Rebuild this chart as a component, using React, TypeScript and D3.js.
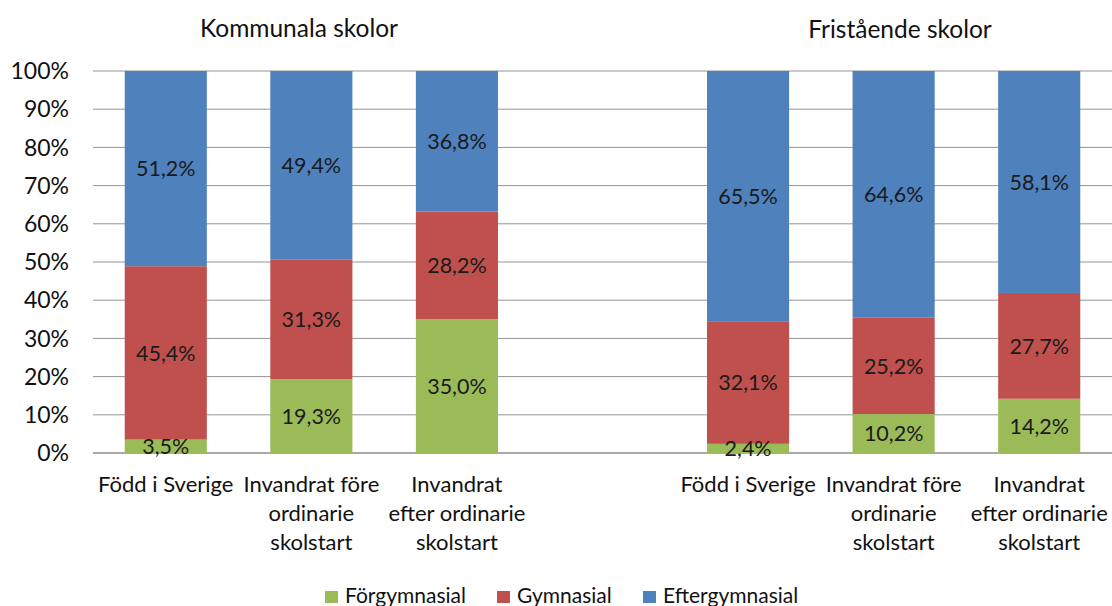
import React from 'react';
import * as d3 from 'd3';

// category slots, 'gap' is the empty spacer between the two school groups
const categories = ['k1', 'k2', 'k3', 'gap', 'f1', 'f2', 'f3'];
const categoryLabels = [
  ['Född i Sverige'],
  ['Invandrat före', 'ordinarie', 'skolstart'],
  ['Invandrat', 'efter ordinarie', 'skolstart'],
  [],
  ['Född i Sverige'],
  ['Invandrat före', 'ordinarie', 'skolstart'],
  ['Invandrat', 'efter ordinarie', 'skolstart'],
];
const groupTitles = ['Kommunala skolor', 'Fristående skolor'];
const seriesNames = ['Förgymnasial', 'Gymnasial', 'Eftergymnasial'];
const forgymnasial = [3.5, 19.3, 35.0, null, 2.4, 10.2, 14.2];
const gymnasial = [45.4, 31.3, 28.2, null, 32.1, 25.2, 27.7];
const eftergymnasial = [51.2, 49.4, 36.8, null, 65.5, 64.6, 58.1];
const yTicks = [0, 10, 20, 30, 40, 50, 60, 70, 80, 90, 100];

const colors = ['#9BBB59', '#C0504D', '#4F81BD'];
const FONT = 'Lato, "Liberation Sans", sans-serif';

const W = 1112;
const H = 606;
const margin = { left: 93, right: 0, top: 71, bottom: 153 };

export default function App() {
  const x = d3.scaleBand<string>()
    .domain(categories)
    .range([margin.left, W - margin.right])
    .paddingInner(0.436)
    .paddingOuter(0.218);
  const y = d3.scaleLinear().domain([0, 100]).range([H - margin.bottom, margin.top]);

  const rows = categories.map((c, i) => ({
    cat: c,
    f: forgymnasial[i],
    g: gymnasial[i],
    e: eftergymnasial[i],
  })).filter(r => r.f !== null);

  const stack = d3.stack<any>().keys(['f', 'g', 'e']);
  const layers = stack(rows as any);

  const fmt = (v: number) => v.toFixed(1).replace('.', ',') + '%';
  const clamp = (v: number) => Math.min(100, v);

  const legendX = [325, 497, 643];

  return (
    <div style={{ position: 'absolute', left: 0, top: 0 }}>
      <svg width={W} height={H} style={{ display: 'block', fontFamily: FONT }}>
        <rect width={W} height={H} fill="#fff" />
        {/* gridlines */}
        {yTicks.map(t => (
          <line key={t} x1={margin.left} x2={W - margin.right} y1={y(t)} y2={y(t)}
            stroke={t === 0 ? '#8c8c8c' : '#959595'} strokeWidth={t === 0 ? 1.5 : 1} />
        ))}
        {yTicks.map(t => (
          <text key={'l' + t} x={69} y={y(t)} dy="0.36em" textAnchor="end" fontSize={23} fill="#111">
            {t}%
          </text>
        ))}
        {/* bars */}
        {layers.map((layer, si) => (
          <g key={si}>
            {layer.map((d: any) => (
              <rect key={d.data.cat} x={x(d.data.cat)} width={x.bandwidth()}
                y={y(clamp(d[1]))} height={y(clamp(d[0])) - y(clamp(d[1]))} fill={colors[si]} />
            ))}
          </g>
        ))}
        {/* data labels */}
        {layers.map((layer, si) => (
          <g key={'dl' + si}>
            {layer.map((d: any) => (
              <text key={d.data.cat} x={(x(d.data.cat) as number) + x.bandwidth() / 2}
                y={y((clamp(d[0]) + clamp(d[1])) / 2)} dy="0.36em" textAnchor="middle"
                fontSize={21.5} fill="#1a1a1a">
                {fmt(d[1] - d[0])}
              </text>
            ))}
          </g>
        ))}
        {/* category labels */}
        {categories.map((c, i) => (
          <text key={'c' + c} textAnchor="middle" fontSize={22} fill="#111">
            {categoryLabels[i].map((ln, j) => (
              <tspan key={j} x={(x(c) as number) + x.bandwidth() / 2} y={492 + j * 29}>{ln}</tspan>
            ))}
          </text>
        ))}
        {/* group titles */}
        <text x={299} y={37} textAnchor="middle" fontSize={24.5} fill="#111">{groupTitles[0]}</text>
        <text x={900} y={38} textAnchor="middle" fontSize={24.5} fill="#111">{groupTitles[1]}</text>
        {/* legend */}
        {seriesNames.map((s, i) => (
          <g key={s} transform={`translate(${legendX[i]},603)`}>
            <rect x={0} y={-12} width={13} height={12} fill={colors[i]} />
            <text x={20} y={0} fontSize={21} fill="#111">{s}</text>
          </g>
        ))}
      </svg>
    </div>
  );
}
